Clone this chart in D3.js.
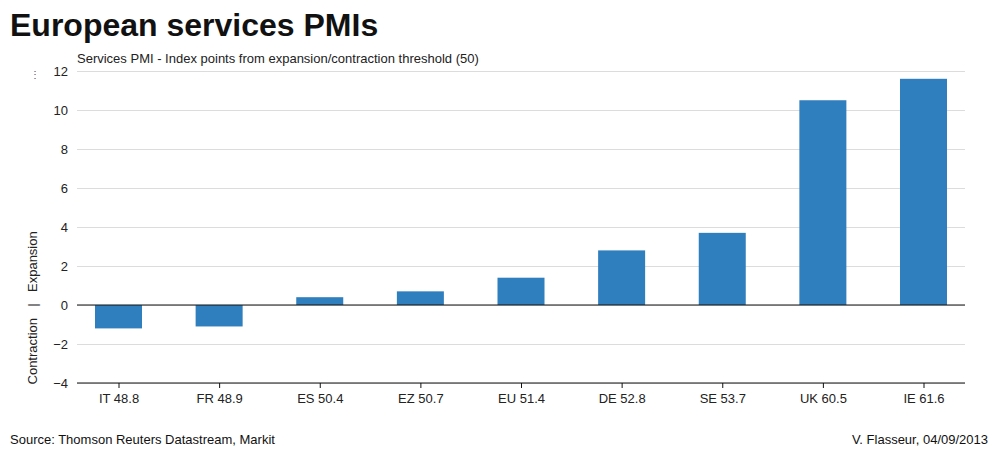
<!DOCTYPE html>
<html><head><meta charset="utf-8">
<script src="https://cdn.jsdelivr.net/npm/d3@7"></script>
<style>
html,body{margin:0;padding:0;background:#fff;}
text{font-family:"Liberation Sans",Arial,sans-serif;}
</style></head>
<body><svg id="c" width="1000" height="450"></svg>
<script>
const categories = ["IT 48.8","FR 48.9","ES 50.4","EZ 50.7","EU 51.4","DE 52.8","SE 53.7","UK 60.5","IE 61.6"];
const values = [-1.2,-1.1,0.4,0.7,1.4,2.8,3.7,10.5,11.6];
const yTicks = [-4,-2,0,2,4,6,8,10,12];

const svg = d3.select("#c");
const plotL = 77, plotR = 965;
const fs = 13;
const xc = d3.scalePoint().domain(categories).range([118.5, 923.5]);
const y = d3.scaleLinear().domain([-4,12]).range([383,71]);

svg.append("text").attr("x",10).attr("y",36).attr("font-size",32).attr("font-weight","bold").attr("fill","#111").text("European services PMIs");
svg.append("text").attr("x",77).attr("y",63).attr("font-size",fs).attr("fill","#222").text("Services PMI - Index points from expansion/contraction threshold (50)");

// grid
const yAxis = d3.axisLeft(y).tickValues(yTicks).tickSize(-(plotR-plotL)).tickFormat(d3.format("d"));
const gy = svg.append("g").attr("transform",`translate(${plotL},0)`).call(yAxis);
gy.select(".domain").remove();
gy.selectAll(".tick line").attr("stroke","#dcdcdc");
gy.selectAll(".tick text").attr("x",-9).attr("font-size",fs).attr("fill","#222").attr("font-family","Liberation Sans, Arial, sans-serif");

// bars
const bw = 47;
svg.append("g").selectAll("rect").data(values).join("rect")
  .attr("x",(d,i)=>xc(categories[i])-bw/2)
  .attr("width",bw)
  .attr("y",d=>y(Math.max(0,d)))
  .attr("height",d=>Math.abs(y(d)-y(0)))
  .attr("fill","#2f7ebd");

// zero line
svg.append("line").attr("x1",plotL).attr("x2",plotR).attr("y1",y(0)).attr("y2",y(0)).attr("stroke","#111").attr("stroke-width",1);

// x axis
const xAxis = d3.axisBottom(xc).tickSize(5).tickSizeOuter(0);
const gx = svg.append("g").attr("transform",`translate(0,${y(-4)})`).call(xAxis);
gx.select(".domain").remove();
gx.selectAll(".tick line").attr("stroke","#111");
gx.selectAll(".tick text").attr("dy","0").attr("y",20).attr("font-size",fs).attr("fill","#222").attr("font-family","Liberation Sans, Arial, sans-serif");
svg.append("line").attr("x1",plotL).attr("x2",plotR).attr("y1",y(-4)).attr("y2",y(-4)).attr("stroke","#111");

// y label
const yl = svg.append("g").attr("transform","translate(37,305) rotate(-90)").attr("font-size",fs).attr("fill","#222");
yl.append("text").attr("x",-13).attr("text-anchor","end").text("Contraction");
yl.append("text").attr("x",0).attr("text-anchor","middle").text("|");
yl.append("text").attr("x",13).attr("text-anchor","start").text("Expansion");

svg.append("text").attr("x",35).attr("y",78).attr("font-size",10).attr("fill","#555").attr("text-anchor","middle").text("⋮");

svg.append("text").attr("x",10).attr("y",444).attr("font-size",fs).attr("fill","#111").text("Source: Thomson Reuters Datastream, Markit");
svg.append("text").attr("x",988).attr("y",444).attr("font-size",fs).attr("fill","#111").attr("text-anchor","end").text("V. Flasseur, 04/09/2013");
</script></body></html>
